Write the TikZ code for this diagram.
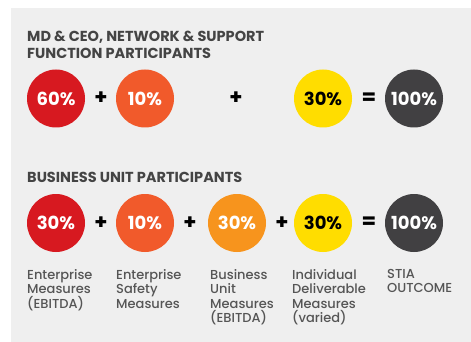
\documentclass[tikz,border=0pt]{standalone}
\usepackage{fontspec}
\setmainfont{Poppins}
\newfontfamily\medfont{Poppins Medium}
\definecolor{panel}{HTML}{EFEFEF}
\definecolor{cred}{HTML}{D71920}
\definecolor{corange}{HTML}{F15A2B}
\definecolor{camber}{HTML}{F7941D}
\definecolor{cyellow}{HTML}{FFDD00}
\definecolor{cdark}{HTML}{414042}
\definecolor{ctitle}{HTML}{444444}
\definecolor{clabel}{HTML}{555555}
\begin{document}
\begin{tikzpicture}[x=1pt,y=-1pt,
  disc/.style={circle,minimum size=58pt,inner sep=0pt,font=\fontsize{18}{18}\selectfont\bfseries,text=white},
  op/.style={font=\fontsize{21}{21}\selectfont\bfseries,text=black,inner sep=0pt},
  title/.style={anchor=north west,align=left,inner sep=0pt,text=ctitle,font=\fontsize{14.5}{16.5}\selectfont\bfseries},
  lbl/.style={anchor=north west,align=left,inner sep=0pt,text=clabel,font=\fontsize{13}{14.5}\selectfont\medfont}]
\useasboundingbox (0,0) rectangle (471,342);
\fill[panel] (11,8) rectangle (471,342);
\node[title] (t1) at (27,31) {MD \& CEO, NETWORK \& SUPPORT\\FUNCTION PARTICIPANTS};
\node[disc,fill=cred] (a1) at (56,98.5) {60\%};
\node[op] (p11) at (101,98.5) {+};
\node[disc,fill=corange] (a2) at (145,98.5) {10\%};
\node[op] (p12) at (236,98.5) {+};
\node[disc,fill=cyellow,text=black] (a4) at (323,98.5) {30\%};
\node[op] (e1) at (369,98.5) {=};
\node[disc,fill=cdark] (a5) at (414,98.5) {100\%};
\node[title] (t2) at (27,172) {BUSINESS UNIT PARTICIPANTS};
\node[disc,fill=cred] (b1) at (56,223) {30\%};
\node[op] (p21) at (101,223) {+};
\node[disc,fill=corange] (b2) at (145,223) {10\%};
\node[op] (p22) at (190,223) {+};
\node[disc,fill=camber] (b3) at (237,223) {30\%};
\node[op] (p23) at (282,223) {+};
\node[disc,fill=cyellow,text=black] (b4) at (323,223) {30\%};
\node[op] (e2) at (369,223) {=};
\node[disc,fill=cdark] (b5) at (414,223) {100\%};
\node[lbl] (l1) at (27,269) {Enterprise\\Measures\\(EBITDA)};
\node[lbl] (l2) at (116,269) {Enterprise\\Safety\\Measures};
\node[lbl] (l3) at (210,269) {Business\\Unit\\Measures\\(EBITDA)};
\node[lbl] (l4) at (292,269) {Individual\\Deliverable\\Measures\\(varied)};
\node[lbl] (l5) at (387,269) {STIA\\OUTCOME};
\end{tikzpicture}
\end{document}
